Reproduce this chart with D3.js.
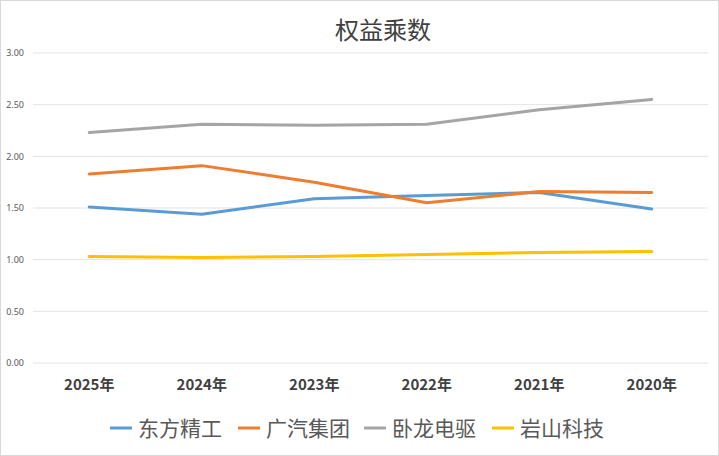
<!DOCTYPE html>
<html>
<head>
<meta charset="utf-8">
<script src="https://cdn.jsdelivr.net/npm/d3@7"></script>
<style>
  body { margin: 0; background: #fff; }
  svg { display: block; }
</style>
</head>
<body>
<div id="chart"></div>
<script>
// data
var years = ["2025年", "2024年", "2023年", "2022年", "2021年", "2020年"];
var seriesNames = ["东方精工", "广汽集团", "卧龙电驱", "岩山科技"];
var dongfang = [1.51, 1.44, 1.59, 1.62, 1.65, 1.49];
var guangqi = [1.83, 1.91, 1.75, 1.55, 1.66, 1.65];
var wolong = [2.23, 2.31, 2.30, 2.31, 2.45, 2.55];
var yanshan = [1.03, 1.02, 1.03, 1.05, 1.07, 1.08];
var yTicks = [0, 0.5, 1, 1.5, 2, 2.5, 3];
var colors = ["#5b9bd5", "#ed7d31", "#a5a5a5", "#ffc000"];

var W = 719, H = 456;
var svg = d3.select("#chart").append("svg").attr("width", W).attr("height", H);

svg.append("rect").attr("x", 0.5).attr("y", 0.5).attr("width", W - 1).attr("height", H - 1)
  .attr("fill", "#fff").attr("stroke", "#d9d9d9");

svg.append("text").attr("x", 383).attr("y", 39).attr("text-anchor", "middle")
  .attr("font-family", "Noto Sans CJK SC").attr("font-size", 24).attr("fill", "#404040")
  .text("权益乘数");

var x = d3.scaleBand().domain(years).range([33, 708]);
var y = d3.scaleLinear().domain([0, 3]).range([363, 53]);

// grid
svg.append("g").selectAll("line").data(yTicks).join("line")
  .attr("x1", 33).attr("x2", 708)
  .attr("y1", d => y(d)).attr("y2", d => y(d))
  .attr("stroke", "#e3e3e3").attr("stroke-width", 1);

var yAxis = svg.append("g").attr("transform", "translate(27,0)")
  .call(d3.axisLeft(y).tickValues(yTicks).tickFormat(d3.format(".2f")).tickSize(0));
yAxis.select(".domain").remove();
yAxis.selectAll("text").attr("font-family", "Noto Sans").attr("font-size", 9).attr("fill", "#595959");

var xAxis = svg.append("g").attr("transform", "translate(0,363)")
  .call(d3.axisBottom(x).tickSize(0).tickPadding(16));
xAxis.select(".domain").remove();
xAxis.selectAll("text").attr("font-family", "Noto Sans CJK SC").attr("font-size", 15)
  .attr("font-weight", "bold").attr("fill", "#404040");

var allSeries = [dongfang, guangqi, wolong, yanshan];
var line = d3.line().x((d, i) => x(years[i]) + x.bandwidth() / 2).y(d => y(d));

svg.append("g").selectAll("path").data(allSeries).join("path")
  .attr("d", line).attr("fill", "none")
  .attr("stroke", (d, i) => colors[i]).attr("stroke-width", 3)
  .attr("stroke-linejoin", "round").attr("stroke-linecap", "round");

// legend
var legendX = [110, 238, 364, 492];
var lg = svg.append("g").selectAll("g").data(seriesNames).join("g")
  .attr("transform", (d, i) => "translate(" + legendX[i] + ",428)");
lg.append("line").attr("x1", 0).attr("x2", 22).attr("y1", 0).attr("y2", 0)
  .attr("stroke", (d, i) => colors[i]).attr("stroke-width", 3);
lg.append("text").attr("x", 28).attr("y", 7.5)
  .attr("font-family", "Noto Sans CJK SC").attr("font-size", 21).attr("fill", "#595959")
  .text(d => d);
</script>
</body>
</html>
